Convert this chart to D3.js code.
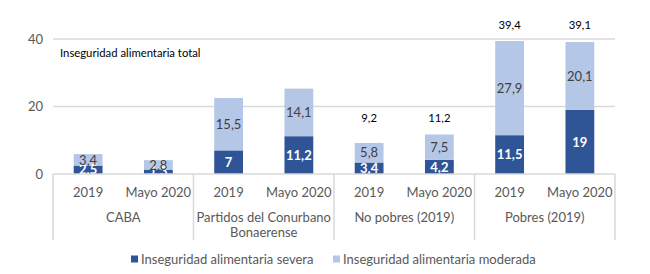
<!DOCTYPE html>
<html>
<head>
<meta charset="utf-8">
<script src="https://cdn.jsdelivr.net/npm/d3@7"></script>
<style>
  body { margin: 0; background: #fff; }
  svg { display: block; font-family: Lato, 'Open Sans', sans-serif; }
</style>
</head>
<body>
<svg id="chart" width="650" height="274"></svg>
<script>
const groups = ['CABA', 'Partidos del Conurbano Bonaerense', 'No pobres (2019)', 'Pobres (2019)']
const periods = ['2019', 'Mayo 2020']
const severa = [2.5, 1.3, 7, 11.2, 3.4, 4.2, 11.5, 19]
const moderada = [3.4, 2.8, 15.5, 14.1, 5.8, 7.5, 27.9, 20.1]
const totalLabels = [null, null, null, null, '9,2', '11,2', '39,4', '39,1']
const yTicks = [0, 20, 40]

const dark = '#2f5597', light = '#b4c7e7'
const fmt = v => String(v).replace('.', ',')

const svg = d3.select('#chart')
let margin = {left: 53, right: 35, top: 39},
    x0 = 53, x1 = 615, yZero = 174

const rows = []
groups.forEach((g, gi) => periods.forEach((p, pi) => {
  const i = gi * 2 + pi
  rows.push({key: i, group: g, period: p, severa: severa[i], moderada: moderada[i], label: totalLabels[i]})
}))

const xScale = d3.scaleBand()
  .domain(rows.map(d => d.key))
  .range([x0, x1])
  .paddingInner(0.59)
  .paddingOuter(0.295)

const yScale = d3.scaleLinear()
  .domain([0, 40])
  .range([yZero, 39])

// gridlines
svg.append('g')
  .selectAll('line')
  .data(yTicks.slice(1))
  .join('line')
  .attr('x1', x0).attr('x2', x1)
  .attr('y1', d => yScale(d)).attr('y2', d => yScale(d))
  .attr('stroke', '#d9d9d9').attr('stroke-width', 1.5)

// y axis labels
svg.append('g')
  .selectAll('text')
  .data(yTicks)
  .join('text')
  .attr('x', 43)
  .attr('y', d => yScale(d))
  .attr('dy', '0.35em')
  .attr('text-anchor', 'end')
  .attr('fill', '#595959')
  .attr('font-size', 13)
  .text(d => d)

svg.append('text')
  .attr('x', 60).attr('y', 57)
  .attr('font-size', 11.3)
  .attr('fill', '#000')
  .text('Inseguridad alimentaria total')

const stack = d3.stack().keys(['severa', 'moderada'])(rows)
const colors = {severa: dark, moderada: light}

svg.append('g')
  .selectAll('g')
  .data(stack)
  .join('g')
  .attr('fill', s => colors[s.key])
  .selectAll('rect')
  .data(s => s)
  .join('rect')
  .attr('x', d => xScale(d.data.key))
  .attr('width', xScale.bandwidth())
  .attr('y', d => yScale(d[1]))
  .attr('height', d => yScale(d[0]) - yScale(d[1]))

// segment labels
stack.forEach(s => {
  svg.append('g')
    .selectAll('text')
    .data(s)
    .join('text')
    .attr('x', d => xScale(d.data.key) + xScale.bandwidth() / 2)
    .attr('y', d => (yScale(d[0]) + yScale(d[1])) / 2)
    .attr('dy', '0.36em')
    .attr('text-anchor', 'middle')
    .attr('font-size', 13)
    .attr('font-weight', s.key === 'severa' ? 'bold' : 'normal')
    .attr('fill', s.key === 'severa' ? '#fff' : '#404040')
    .text(d => fmt(d.data[s.key]))
})

// total labels above the group's tallest bar
const groupMax = gi => d3.max(rows.filter(r => r.group === groups[gi]), r => r.severa + r.moderada)
svg.append('g')
  .selectAll('text')
  .data(rows.filter(r => r.label))
  .join('text')
  .attr('x', d => xScale(d.key) + xScale.bandwidth() / 2)
  .attr('y', d => yScale(groupMax(groups.indexOf(d.group))) - 16)
  .attr('dy', '0.35em')
  .attr('text-anchor', 'middle')
  .attr('font-size', 11.3)
  .attr('fill', '#000')
  .text(d => d.label)

// x axis line
svg.append('line')
  .attr('x1', x0).attr('x2', x1)
  .attr('y1', yZero).attr('y2', yZero)
  .attr('stroke', '#d9d9d9').attr('stroke-width', 1.5)

// group separators
const groupW = (x1 - x0) / groups.length
svg.append('g')
  .selectAll('line')
  .data(d3.range(groups.length + 1))
  .join('line')
  .attr('x1', i => x0 + i * groupW).attr('x2', i => x0 + i * groupW)
  .attr('y1', yZero).attr('y2', 240)
  .attr('stroke', '#d9d9d9').attr('stroke-width', 1.5)

// period labels
svg.append('g')
  .selectAll('text')
  .data(rows)
  .join('text')
  .attr('x', d => xScale(d.key) + xScale.bandwidth() / 2)
  .attr('y', 192)
  .attr('dy', '0.35em')
  .attr('text-anchor', 'middle')
  .attr('font-size', 13)
  .attr('fill', '#595959')
  .text(d => d.period)

// group labels (wrapped)
const groupLines = [['CABA'], ['Partidos del Conurbano', 'Bonaerense'], ['No pobres (2019)'], ['Pobres (2019)']]
groupLines.forEach((lines, gi) => {
  svg.append('text')
    .attr('x', x0 + (gi + 0.5) * groupW)
    .attr('y', 217)
    .attr('text-anchor', 'middle')
    .attr('font-size', 13)
    .attr('fill', '#595959')
    .selectAll('tspan')
    .data(lines)
    .join('tspan')
    .attr('x', x0 + (gi + 0.5) * groupW)
    .attr('dy', (d, i) => i === 0 ? '0.35em' : '1.15em')
    .text(d => d)
})

// legend
const legend = [
  {name: 'Inseguridad alimentaria severa', color: dark, x: 131},
  {name: 'Inseguridad alimentaria moderada', color: light, x: 333}
]
const lg = svg.append('g').selectAll('g').data(legend).join('g')
  .attr('transform', d => `translate(${d.x}, 259)`)
lg.append('rect')
  .attr('x', 0).attr('y', -3.5).attr('width', 7).attr('height', 7)
  .attr('fill', d => d.color)
lg.append('text')
  .attr('x', 10).attr('dy', '0.35em')
  .attr('font-size', 13)
  .attr('fill', '#595959')
  .text(d => d.name)
</script>
</body>
</html>
